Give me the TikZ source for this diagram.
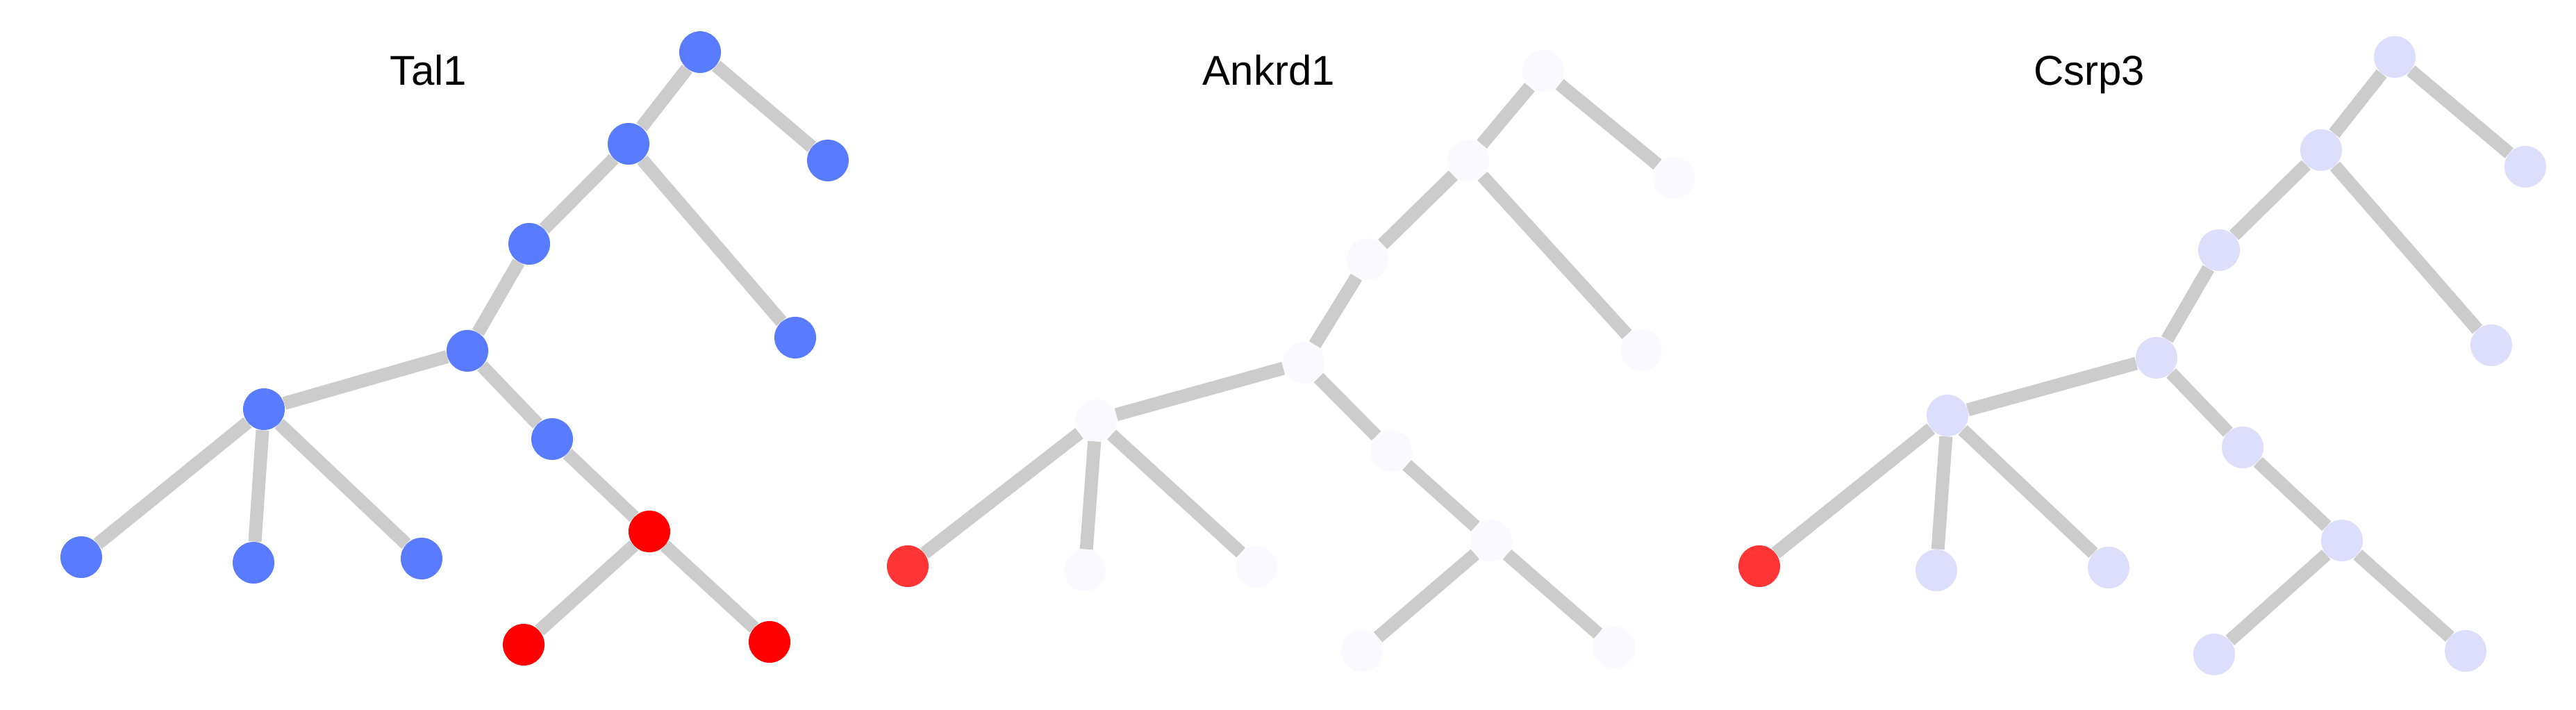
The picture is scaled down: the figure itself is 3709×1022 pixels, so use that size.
\documentclass[tikz,border=0pt]{standalone}
\usepackage{fontspec}
\setmainfont{Liberation Sans}
\definecolor{nblue}{RGB}{88,123,255}
\definecolor{nred}{RGB}{255,0,0}
\definecolor{nred2}{RGB}{255,53,53}
\definecolor{nwhite}{RGB}{249,249,255}
\definecolor{nlav}{RGB}{221,222,251}
\definecolor{egrey}{RGB}{204,204,204}
\begin{document}
\begin{tikzpicture}[x=0.5pt,y=-0.5pt,
  vtx/.style={circle,inner sep=0pt,minimum size=30pt,draw=none},
  bl/.style={vtx,fill=nblue},
  rd/.style={vtx,fill=nred},
  rdb/.style={vtx,fill=nred2},
  wh/.style={vtx,fill=nwhite},
  lv/.style={vtx,fill=nlav},
  edge/.style={draw=egrey,line width=9.5pt},
  ttl/.style={anchor=base,inner sep=0pt,font=\fontsize{30}{36}\selectfont}]
\useasboundingbox (0,0) rectangle (3709,1022);
% ---------------- Tal1 ----------------
\node[ttl] (tT) at (617,123) {Tal1};
\node[bl] (tA) at (1008,75) {};
\node[bl] (tB) at (905,207) {};
\node[bl] (tC) at (1192,231) {};
\node[bl] (tD) at (762,351) {};
\node[bl] (tE) at (1145,486) {};
\node[bl] (tF) at (673,505) {};
\node[bl] (tG) at (380,589) {};
\node[bl] (tH) at (795,632) {};
\node[rd] (tI) at (935,765) {};
\node[bl] (tL1) at (117,802) {};
\node[bl] (tL2) at (365,810) {};
\node[bl] (tL3) at (607,804) {};
\node[rd] (tR1) at (754,928) {};
\node[rd] (tR2) at (1108,924) {};
% ---------------- Ankrd1 ----------------
\node[ttl] (aT) at (1827,123) {Ankrd1};
\node[wh] (aA) at (2222,102) {};
\node[wh] (aB) at (2114,231) {};
\node[wh] (aC) at (2410,256) {};
\node[wh] (aD) at (1969,373) {};
\node[wh] (aE) at (2363,504) {};
\node[wh] (aF) at (1877,522) {};
\node[wh] (aG) at (1578,605) {};
\node[wh] (aH) at (2003,649) {};
\node[wh] (aI) at (2147,778) {};
\node[rdb] (aL1) at (1307,815) {};
\node[wh] (aL2) at (1562,821) {};
\node[wh] (aL3) at (1809,816) {};
\node[wh] (aR1) at (1961,937) {};
\node[wh] (aR2) at (2324,932) {};
% ---------------- Csrp3 ----------------
\node[ttl] (cT) at (3008,123) {Csrp3};
\node[lv] (cA) at (3448,82) {};
\node[lv] (cB) at (3342,216) {};
\node[lv] (cC) at (3636,240) {};
\node[lv] (cD) at (3195,360) {};
\node[lv] (cE) at (3587,497) {};
\node[lv] (cF) at (3105,515) {};
\node[lv] (cG) at (2804,598) {};
\node[lv] (cH) at (3229,644) {};
\node[lv] (cI) at (3372,778) {};
\node[rdb] (cL1) at (2533,815) {};
\node[lv] (cL2) at (2788,821) {};
\node[lv] (cL3) at (3036,817) {};
\node[lv] (cR1) at (3188,942) {};
\node[lv] (cR2) at (3550,937) {};
% ---------------- edges ----------------
\foreach \p in {t,a,c} {
  \draw[edge] (\p A) -- (\p B);
  \draw[edge] (\p A) -- (\p C);
  \draw[edge] (\p B) -- (\p D);
  \draw[edge] (\p B) -- (\p E);
  \draw[edge] (\p D) -- (\p F);
  \draw[edge] (\p F) -- (\p G);
  \draw[edge] (\p F) -- (\p H);
  \draw[edge] (\p G) -- (\p L1);
  \draw[edge] (\p G) -- (\p L2);
  \draw[edge] (\p G) -- (\p L3);
  \draw[edge] (\p H) -- (\p I);
  \draw[edge] (\p I) -- (\p R1);
  \draw[edge] (\p I) -- (\p R2);
}
\end{tikzpicture}
\end{document}
